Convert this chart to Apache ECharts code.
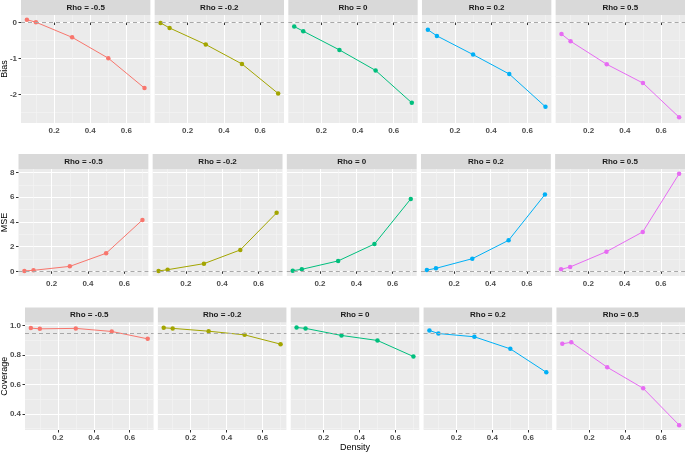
<!DOCTYPE html>
<html>
<head>
<meta charset="utf-8">
<script src="https://cdn.jsdelivr.net/npm/echarts@6/dist/echarts.min.js"></script>
<style>
html,body{margin:0;padding:0;background:#fff;}
#main{width:685px;height:453px;}
</style>
</head>
<body>
<div id="main"></div>
<script>
// data
var density = [0.05, 0.1, 0.3, 0.5, 0.7];
var rhoLabels = ['Rho = -0.5', 'Rho = -0.2', 'Rho = 0', 'Rho = 0.2', 'Rho = 0.5'];
var rhoColors = ['#F8766D', '#A3A500', '#00BF7D', '#00B0F6', '#E76BF3'];

var bias = [
    [0.08, 0.01, -0.41, -0.99, -1.82],
    [-0.01, -0.15, -0.61, -1.15, -1.97],
    [-0.11, -0.24, -0.76, -1.33, -2.23],
    [-0.20, -0.37, -0.89, -1.43, -2.34],
    [-0.32, -0.52, -1.16, -1.68, -2.63]
];
var mse = [
    [0.03, 0.08, 0.40, 1.46, 4.16],
    [0.03, 0.13, 0.62, 1.73, 4.73],
    [0.05, 0.16, 0.84, 2.21, 5.86],
    [0.10, 0.24, 1.02, 2.51, 6.21],
    [0.16, 0.35, 1.59, 3.19, 7.89]
];
var coverage = [
    [0.982, 0.977, 0.980, 0.959, 0.909],
    [0.984, 0.980, 0.961, 0.936, 0.873],
    [0.986, 0.980, 0.932, 0.898, 0.789],
    [0.966, 0.945, 0.923, 0.841, 0.682],
    [0.875, 0.886, 0.716, 0.573, 0.323]
];

var xTicks = [0.2, 0.4, 0.6];
var xMinor = [0.1, 0.3, 0.5, 0.7];
var biasTicks = [-2, -1, 0];
var biasMinor = [-2.5, -1.5, -0.5];
var mseTicks = [0, 2, 4, 6, 8];
var mseMinor = [1, 3, 5, 7];
var covTicks = [0.4, 0.6, 0.8, 1.0];
var covMinor = [0.3, 0.5, 0.7, 0.9];

// one ggplot per row, stacked
var rows = [
    {name: 'Bias', data: bias, ticks: biasTicks, minor: biasMinor, min: -2.79, max: 0.21, ref: 0,
     stripTop: 0, top: 15, bottom: 123, left: 21, digits: 0},
    {name: 'MSE', data: mse, ticks: mseTicks, minor: mseMinor, min: -0.38, max: 8.28, ref: 0,
     stripTop: 154, top: 169, bottom: 276, left: 18.5, digits: 0},
    {name: 'Coverage', data: coverage, ticks: covTicks, minor: covMinor, min: 0.29, max: 1.02, ref: 0.95,
     stripTop: 307.5, top: 322.5, bottom: 430, left: 25, digits: 1}
];

var chartW = 685, gap = 4.3;
var xMin = 0.0175, xMax = 0.7325;
var tickColor = '#333333', labelColor = '#4D4D4D';
var fontFam = '"Liberation Sans", Arial, sans-serif';

var grids = [], xAxes = [], yAxes = [], series = [], graphics = [];

rows.forEach(function (row, r) {
    var w = (chartW - row.left - 4 * gap) / 5;
    var h = row.bottom - row.top;
    graphics.push({
        type: 'text', x: 5, y: row.top + h / 2, rotation: Math.PI / 2,
        style: {text: row.name, fill: '#000', font: '9px ' + fontFam, align: 'center', verticalAlign: 'middle'}
    });
    for (var c = 0; c < 5; c++) {
        var left = row.left + c * (w + gap);
        var gi = grids.length;
        grids.push({left: left, top: row.top, width: w, height: h, outerBoundsMode: 'none',
            show: true, backgroundColor: '#EBEBEB', borderWidth: 0});
        // strip
        graphics.push({type: 'rect', shape: {x: left, y: row.stripTop, width: w, height: row.top - row.stripTop},
            style: {fill: '#D9D9D9'}});
        graphics.push({type: 'text', x: left + w / 2, y: row.stripTop + (row.top - row.stripTop) / 2,
            style: {text: rhoLabels[c], fill: '#1A1A1A', font: 'bold 8px ' + fontFam, align: 'center', verticalAlign: 'middle'}});

        // major x
        xAxes.push({
            type: 'value', gridIndex: gi, position: 'bottom', min: xMin, max: xMax,
            axisLine: {show: false},
            axisTick: {show: true, length: 2.5, customValues: xTicks, lineStyle: {color: tickColor, width: 1}},
            axisLabel: {show: true, customValues: xTicks, margin: 4, color: labelColor, fontSize: 8,
                fontWeight: 'bold', fontFamily: fontFam, formatter: function (v) { return v.toFixed(1); }},
            splitLine: {show: true, lineStyle: {color: '#FFFFFF', width: 1}}
        });
        // minor x
        xAxes.push({
            type: 'value', gridIndex: gi, position: 'top', min: xMin, max: xMax,
            axisLine: {show: false}, axisLabel: {show: false},
            axisTick: {show: false, customValues: xMinor},
            splitLine: {show: true, lineStyle: {color: '#F5F5F5', width: 0.6}}
        });
        // major y
        var first = c === 0;
        yAxes.push({
            type: 'value', gridIndex: gi, position: 'left', min: row.min, max: row.max,
            axisLine: {show: false},
            axisTick: {show: first, length: 2.5, customValues: row.ticks, lineStyle: {color: tickColor, width: 1}},
            axisLabel: {show: first, customValues: row.ticks, margin: 4, color: labelColor, fontSize: 8,
                fontWeight: 'bold', fontFamily: fontFam,
                formatter: (function (d) { return function (v) { return v.toFixed(d); }; })(row.digits)},
            splitLine: {show: true, lineStyle: {color: '#FFFFFF', width: 1}}
        });
        // minor y
        yAxes.push({
            type: 'value', gridIndex: gi, position: 'right', min: row.min, max: row.max,
            axisLine: {show: false}, axisLabel: {show: false},
            axisTick: {show: false, customValues: row.minor},
            splitLine: {show: true, lineStyle: {color: '#F5F5F5', width: 0.6}}
        });

        series.push({
            type: 'line',
            xAxisIndex: gi * 2, yAxisIndex: gi * 2,
            data: density.map(function (d, i) { return [d, row.data[c][i]]; }),
            symbol: 'circle', symbolSize: 4.5, showSymbol: true,
            itemStyle: {color: rhoColors[c]},
            lineStyle: {color: rhoColors[c], width: 1},
            markLine: {
                silent: true, symbol: 'none', label: {show: false},
                lineStyle: {color: '#A8A8A8', type: [4, 3], width: 1},
                data: [{yAxis: row.ref}]
            }
        });
    }
});

graphics.push({type: 'text', x: 355, y: 448,
    style: {text: 'Density', fill: '#000', font: '9px ' + fontFam, align: 'center', verticalAlign: 'middle'}});

var myChart = echarts.init(document.getElementById('main'));
myChart.setOption({
    animation: false,
    backgroundColor: '#FFFFFF',
    grid: grids,
    xAxis: xAxes,
    yAxis: yAxes,
    series: series,
    graphic: graphics
});
</script>
</body>
</html>
